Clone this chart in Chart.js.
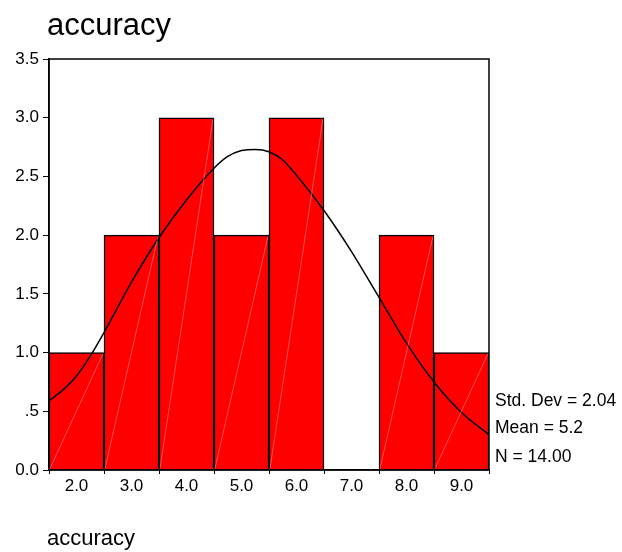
<!DOCTYPE html>
<html>
<head>
<meta charset="utf-8">
<script src="https://cdn.jsdelivr.net/npm/chart.js@4.4.1/dist/chart.umd.min.js"></script>
<style>
  html, body { margin: 0; padding: 0; background: #fff; }
  #wrap { position: relative; width: 622px; height: 552px; }
</style>
</head>
<body>
<div id="wrap"><canvas id="histChart" width="622" height="552"></canvas></div>
<script>
// bins (bin centres) and counts
const binCenters = [2, 3, 4, 5, 6, 7, 8, 9];
const counts = [1, 2, 3, 2, 3, 0, 2, 1];

// normal curve
const curveX = [1.5, 1.75, 2, 2.25, 2.5, 3, 3.5, 4, 4.5, 4.75, 5, 5.25, 5.5, 5.75, 6, 6.5, 7, 7.5, 8, 8.5, 9, 9.5];
const curveY = [0.59, 0.68, 0.80, 0.97, 1.17, 1.60, 1.98, 2.30, 2.57, 2.67, 2.72, 2.73, 2.71, 2.64, 2.51, 2.21, 1.86, 1.47, 1.08, 0.75, 0.49, 0.30];

const xTicks = [2, 3, 4, 5, 6, 7, 8, 9];
const yTicks = [0, 0.5, 1, 1.5, 2, 2.5, 3, 3.5];

const titleText = 'accuracy';
const axisTitle = 'accuracy';
const statLines = ['Std. Dev = 2.04', 'Mean = 5.2', 'N = 14.00'];

const FONT = 'Arial, "Liberation Sans", sans-serif';

// frame, bar streaks and the SPSS-style text
const extras = {
    id: 'extras',
    afterDatasetsDraw(chart) {
        const ctx = chart.ctx;
        const bars = chart.getDatasetMeta(0).data;
        ctx.save();
        ctx.strokeStyle = 'rgba(255,190,190,0.7)';
        ctx.lineWidth = 0.6;
        bars.forEach((b, i) => {
            if (!counts[i]) return;
            const w = b.width / 2;
            ctx.beginPath();
            ctx.moveTo(b.x - w + 1, b.base - 1);
            ctx.lineTo(b.x + w - 1, b.y + 1);
            ctx.stroke();
        });
        ctx.restore();
    },
    afterDraw(chart) {
        const ctx = chart.ctx;
        const a = chart.chartArea;
        ctx.save();
        ctx.strokeStyle = '#000';
        ctx.lineWidth = 1.5;
        ctx.strokeRect(a.left, a.top, a.right - a.left, a.bottom - a.top);

        ctx.fillStyle = '#000';
        ctx.textBaseline = 'middle';
        ctx.textAlign = 'left';
        ctx.font = '31px ' + FONT;
        ctx.fillText(titleText, 47, 26);

        ctx.font = '17.5px ' + FONT;
        const ys = [401, 428, 457];
        statLines.forEach((s, i) => ctx.fillText(s, a.right + 6, ys[i]));

        ctx.font = '22px ' + FONT;
        ctx.fillText(axisTitle, 47, 539);
        ctx.restore();
    }
};

new Chart(document.getElementById('histChart'), {
    type: 'bar',
    data: {
        datasets: [{
            type: 'bar',
            data: binCenters.map((x, i) => ({ x: x, y: counts[i] })),
            backgroundColor: '#ff0000',
            borderColor: '#000',
            borderWidth: 1.5,
            borderSkipped: 'bottom',
            barPercentage: 1,
            categoryPercentage: 1,
            order: 2
        }, {
            type: 'line',
            data: curveX.map((x, i) => ({ x: x, y: curveY[i] })),
            borderColor: '#000',
            borderWidth: 1.5,
            pointRadius: 0,
            fill: false,
            cubicInterpolationMode: 'monotone',
            order: 1
        }]
    },
    plugins: [extras],
    options: {
        responsive: false,
        animation: false,
        events: [],
        layout: { padding: { left: 0, right: 133, top: 59, bottom: 0 } },
        plugins: { legend: { display: false }, tooltip: { enabled: false } },
        scales: {
            x: {
                type: 'linear',
                min: 1.5,
                max: 9.5,
                offset: false,
                afterBuildTicks: s => { s.ticks = xTicks.map(v => ({ value: v })); },
                afterFit: s => { s.height = 82; },
                grid: { drawOnChartArea: false, color: '#000', tickLength: 4 },
                border: { display: true, color: '#000', width: 1.5 },
                ticks: { color: '#000', font: { family: FONT, size: 17 }, padding: 2, maxRotation: 0,
                    callback: v => v.toFixed(1) }
            },
            y: {
                min: 0,
                max: 3.5,
                afterBuildTicks: s => { s.ticks = yTicks.map(v => ({ value: v })); },
                afterFit: s => { s.width = 49; },
                grid: { drawOnChartArea: false, color: '#000', tickLength: 6 },
                border: { display: true, color: '#000', width: 1.5 },
                ticks: { color: '#000', font: { family: FONT, size: 17 }, padding: 4,
                    callback: v => (v === 0.5 ? '.5' : v.toFixed(1)) }
            }
        }
    }
});
</script>
</body>
</html>
